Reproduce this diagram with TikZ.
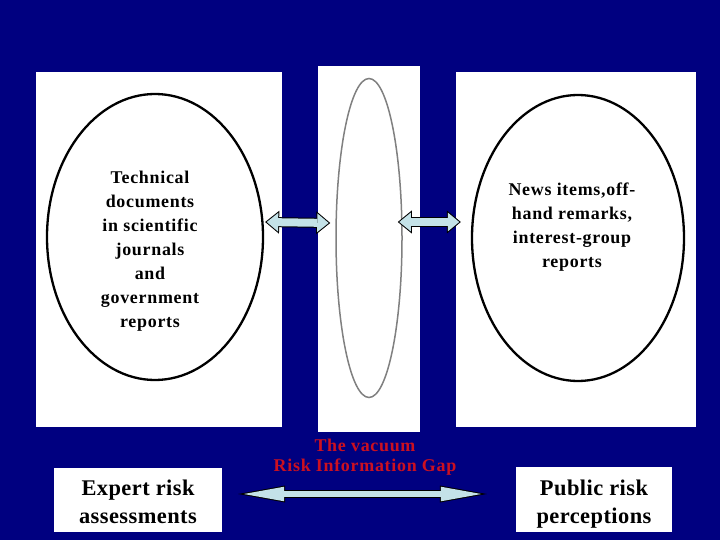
\documentclass[tikz,border=0pt]{standalone}
\usepackage{fontspec}
\setmainfont{Liberation Serif}[LetterSpace=4]
\usetikzlibrary{arrows.meta,shapes.geometric}
\definecolor{slidenavy}{RGB}{0,0,128}
\definecolor{arrowblue}{RGB}{196,226,232}
\definecolor{gapred}{RGB}{204,16,32}
\begin{document}
\begin{tikzpicture}[x=1bp,y=-1bp,
  bubble/.style={ellipse, draw, line width=2.3bp, inner sep=0pt},
  bubbletext/.style={align=center, font=\bfseries\fontsize{18}{24}\selectfont},
  sourcebox/.style={fill=white, align=center, inner sep=0pt, font=\bfseries\fontsize{22.5}{28}\selectfont\addfontfeatures{LetterSpace=2}},
  gaptext/.style={align=center, text=gapred, font=\bfseries\fontsize{18}{20}\selectfont},
  widearrow/.style={draw=black, line width=10bp,
    {Triangle[length=14bp,width=23bp,line width=0pt]}-{Triangle[length=14bp,width=23bp,line width=0pt]},
    postaction={draw=arrowblue, line width=8bp, shorten <=1.6bp, shorten >=1.6bp,
      {Triangle[length=11.4bp,width=18.7bp,line width=0pt]}-{Triangle[length=11.4bp,width=18.7bp,line width=0pt]}}},
  longarrow/.style={draw=black, line width=8bp,
    {Triangle[length=47bp,width=17bp,line width=0pt]}-{Triangle[length=47bp,width=17bp,line width=0pt]},
    postaction={draw=arrowblue, line width=6bp, shorten <=5.6bp, shorten >=5.6bp,
      {Triangle[length=40.4bp,width=14.6bp,line width=0pt]}-{Triangle[length=40.4bp,width=14.6bp,line width=0pt]}}}]
\fill[slidenavy] (0,0) rectangle (720,540);
\useasboundingbox (0,0) rectangle (720,540);
\fill[white] (36,72) rectangle (282,427);
\fill[white] (318,66) rectangle (420,432);
\fill[white] (456,72) rectangle (696,427);

\node[bubble, minimum width=216bp, minimum height=286bp] (techell) at (155,237) {};
\node[bubble, draw=gray, line width=1.5bp, minimum width=66bp, minimum height=319bp] (gapell) at (369,238) {};
\node[bubble, minimum width=212bp, minimum height=286bp] (newsell) at (578,238) {};

\node[bubbletext] (techtext) at ([shift={(-5,14)}]techell.center)
  {Technical\\documents\\in scientific\\journals\\and\\government\\reports};
\node[bubbletext] (newstext) at ([shift={(-6,-11)}]newsell.center)
  {News items,off-\\hand remarks,\\interest-group\\reports};

\node[sourcebox, minimum width=168bp, minimum height=64bp] (expertbox) at (138,500) {\rule{0pt}{28bp}Expert risk\\assessments\strut};
\node[sourcebox, minimum width=156bp, minimum height=65bp] (publicbox) at (594,499.5) {\rule{0pt}{28bp}Public risk\\perceptions\strut};
\node[gaptext] (gaplabel) at (365,457) {The vacuum\\Risk Information Gap};

\draw[widearrow] ([shift={(1,-15)}]techell.east) -- ([shift={(-5,-15)}]gapell.west);
\draw[widearrow] ([shift={(-5,-16)}]gapell.east) -- ([shift={(-10,-16)}]newsell.west);
\draw[longarrow] ([shift={(16,-6)}]expertbox.east) -- ([shift={(-29,-5.5)}]publicbox.west);
\end{tikzpicture}
\end{document}
